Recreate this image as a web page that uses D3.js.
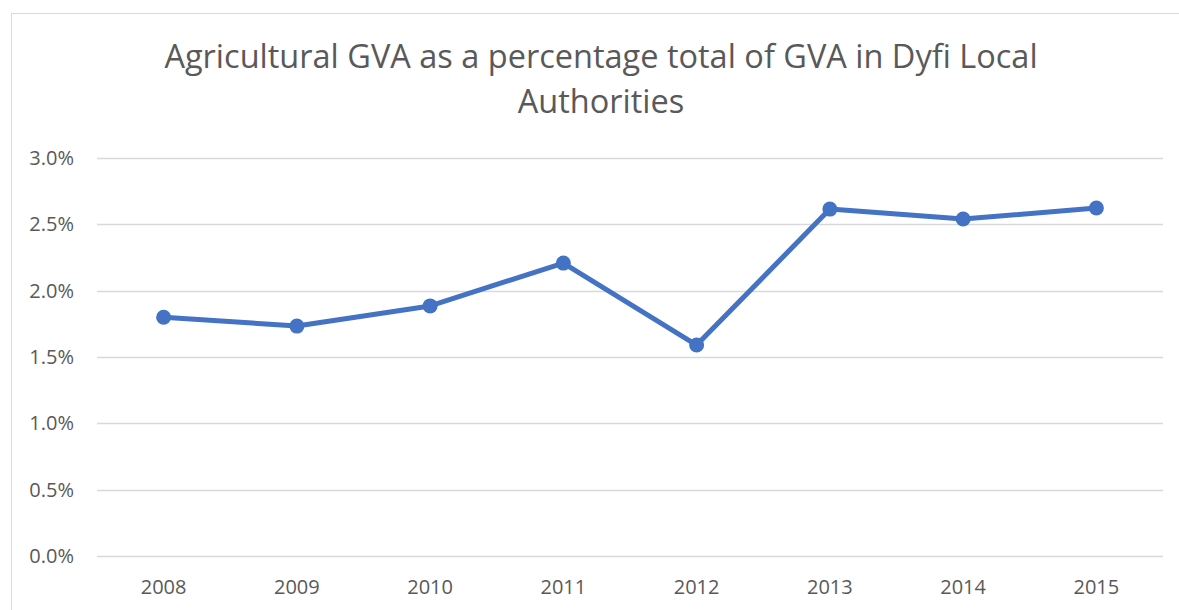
<!DOCTYPE html>
<html lang="en">
<head>
<meta charset="UTF-8">
<title>Agricultural GVA</title>
<script src="https://cdn.jsdelivr.net/npm/d3@7"></script>
<style>
  body { margin: 0; background: #fff; }
  svg { display: block; font-family: "Open Sans", "Noto Sans", sans-serif; }
</style>
</head>
<body>
<div id="chart"></div>
<script>
const years = ["2008", "2009", "2010", "2011", "2012", "2013", "2014", "2015"];
const gvaShare = [0.0180, 0.01733, 0.01885, 0.02208, 0.0159, 0.02615, 0.0254, 0.02623];
const yTicks = [0, 0.005, 0.01, 0.015, 0.02, 0.025, 0.03];
const titleLines = ["Agricultural GVA as a percentage total of GVA in Dyfi Local", "Authorities"];

const W = 1179, H = 610;
const margin = {left: 97, right: 16, top: 158, bottom: 54};

const svg = d3.select("#chart").append("svg")
  .attr("width", W)
  .attr("height", H);

// chart area frame
svg.append("rect")
  .attr("x", 11.5).attr("y", 13.5)
  .attr("width", W + 10).attr("height", H + 10)
  .attr("fill", "none")
  .attr("stroke", "#d9d9d9")
  .attr("stroke-width", 1);

svg.selectAll("text.title")
  .data(titleLines)
  .enter()
  .append("text")
  .attr("class", "title")
  .attr("x", 601)
  .attr("y", (d, i) => 68 + i * 45)
  .attr("text-anchor", "middle")
  .attr("font-size", "32.5px")
  .attr("fill", "#595959")
  .text(d => d);

const x = d3.scaleBand()
  .domain(years)
  .range([margin.left, W - margin.right]);

const y = d3.scaleLinear()
  .domain([0, 0.03])
  .range([H - margin.bottom, margin.top]);

// gridlines
svg.append("g")
  .selectAll("line")
  .data(yTicks)
  .enter()
  .append("line")
  .attr("x1", margin.left)
  .attr("x2", W - margin.right)
  .attr("y1", d => Math.round(y(d)) + 0.5)
  .attr("y2", d => Math.round(y(d)) + 0.5)
  .attr("stroke", "#d9d9d9")
  .attr("stroke-width", 1.3);

const fmt = d3.format(".1%");
svg.append("g")
  .selectAll("text")
  .data(yTicks)
  .enter()
  .append("text")
  .attr("x", 74)
  .attr("y", d => y(d) + 7)
  .attr("text-anchor", "end")
  .attr("font-size", "20px")
  .attr("fill", "#595959")
  .text(d => fmt(d));

svg.append("g")
  .selectAll("text")
  .data(years)
  .enter()
  .append("text")
  .attr("x", d => x(d) + x.bandwidth() / 2)
  .attr("y", 594)
  .attr("text-anchor", "middle")
  .attr("font-size", "20px")
  .attr("fill", "#595959")
  .text(d => d);

const line = d3.line()
  .x((d, i) => x(years[i]) + x.bandwidth() / 2)
  .y(d => y(d));

svg.append("path")
  .datum(gvaShare)
  .attr("d", line)
  .attr("fill", "none")
  .attr("stroke", "#4472c4")
  .attr("stroke-width", 5)
  .attr("stroke-linejoin", "round");

svg.selectAll("circle")
  .data(gvaShare)
  .enter()
  .append("circle")
  .attr("cx", (d, i) => x(years[i]) + x.bandwidth() / 2)
  .attr("cy", d => y(d))
  .attr("r", 7.5)
  .attr("fill", "#4472c4");
</script>
</body>
</html>
